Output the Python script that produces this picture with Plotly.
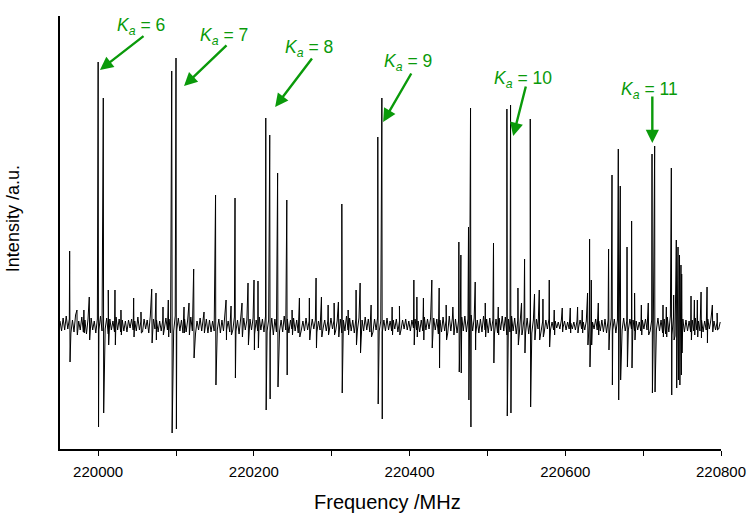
import plotly.graph_objects as go

# ---- strong / medium transitions: frequency (MHz), upward lobe, downward lobe (a.u.)
line_freq = [219963.4, 220000.0, 220006.6, 220094.5, 220100.0, 220122.7, 220150.8, 220175.8,
             220192.5, 220200.2, 220205.3, 220215.3, 220220.4, 220230.5, 220242.3, 220279.9,
             220313.0, 220331.3, 220336.5, 220359.2, 220364.4, 220405.5, 220428.6, 220438.0,
             220463.3, 220465.9, 220475.7, 220478.3, 220484.3, 220507.8, 220525.0, 220529.7,
             220539.2, 220547.7, 220555.0, 220566.6, 220579.4, 220596.1, 220628.6, 220631.2,
             220633.4, 220655.6, 220660.0, 220668.1, 220670.6, 220679.3, 220685.2, 220689.0,
             220711.4, 220714.8, 220736.2, 220739.2, 220742.6, 220744.8, 220746.7, 220748.6,
             220749.5, 220761.5, 220774.4, 220782.1, 220788.9, 220795.0]
line_up = [74, 263, 227, 254, 267, 56, 130, 127,
           42, 45, 44, 207, 190, 152, 125, 47,
           121, 35, 42, 188, 227, 45, 45, 37,
           83, 70, 98, 217, 43, 82, 216, 220,
           37, 66, 206, 35, 45, 17, 32, 86,
           45, 76, 150, 176, 139, 78, 104, 32,
           171, 179, 157, 30, 85, 78, 70, 60,
           51, 29, 33, 38, 20, 12]
line_down = [37, 102, 88, 108, 104, 33, 60, 53,
             20, 25, 23, 85, 74, 62, 50, 23,
             68, 20, 28, 79, 94, 20, 23, 43,
             47, 48, 75, 102, 25, 38, 91, 88,
             20, 28, 82, 15, 22, 7, 20, 42,
             20, 25, 60, 75, 55, 42, 43, 15,
             68, 67, 70, 15, 63, 55, 60, 50,
             28, 15, 13, 18, 7, 5]

# ---- weaker features
weak_freq = [219972.8, 219981.7, 219988.6, 220013.0, 220021.6, 220029.3, 220045.6, 220055.0,
             220068.8, 220074.3, 220083.3, 220090.1, 220110.3, 220116.7, 220136.0, 220164.3,
             220170.7, 220184.8, 220249.1, 220258.5, 220271.3, 220286.8, 220295.4, 220303.1,
             220308.6, 220321.1, 220350.6, 220377.6, 220387.0, 220409.4, 220417.8, 220447.0,
             220455.6, 220497.2, 220513.9, 220543.8, 220560.5, 220571.3, 220585.8, 220606.4,
             220615.8, 220621.8, 220642.4, 220697.7, 220706.6, 220725.5, 220729.8, 220765.8,
             220769.6]
weak_up = [15, 15, 28, 35, 35, 15, 27, 13,
           36, 32, 18, 25, 18, 22, 13, 25,
           19, 22, 15, 27, 27, 28, 20, 22,
           23, 15, 20, 18, 19, 28, 27, 20,
           18, 22, 18, 22, 31, 26, 15, 17,
           18, 15, 22, 20, 22, 20, 18, 25,
           25]
weak_down = [10, 8, 15, 20, 20, 10, 12, 8,
             18, 15, 10, 12, 8, 10, 8, 15,
             10, 12, 10, 12, 15, 12, 10, 10,
             12, 10, 12, 10, 10, 12, 15, 15,
             10, 12, 10, 10, 15, 12, 10, 8,
             8, 8, 10, 10, 10, 12, 12, 10,
             12]

# ---- baseline noise, read every 2 MHz starting at 219951 MHz
noise_start = 219951.0
noise_step = 2.0
noise_vals = [
    4, -6, 7, -5, 9, -4, 6, -8, 5, -7, 10, -6, 4, -5, 8, -7, 5, -9, 6, -4,
    7, -5, 4, -8, 6, -5, 9, -6, 5, -4, 7, -9, 6, -5, 4, -7, 8, -5, 6, -7,
    5, -6, 4, -7, 5, -3, 6, -5, 4, -6, 8, -5, 4, -7, 6, -4, 5, -8, 9, -5,
    6, -4, 5, -7, 4, -6, 5, -4, 7, -5, 6, -8, 4, -6, 9, -5, 7, -6, 5, -8,
    6, -7, 5, -4, 8, -6, 5, -9, 4, -5, 7, -6, 5, -4, 6, -8, 5, -7, 4, -6,
    7, -5, 6, -8, 5, -6, 9, -5, 4, -7, 6, -5, 8, -6, 5, -9, 6, -4, 7, -5,
    5, -8, 6, -5, 7, -9, 5, -6, 8, -5, 6, -7, 9, -6, 5, -8, 7, -10, 6, -7,
    8, -6, 5, -7, 9, -5, 6, -8, 5, -4, 7, -6, 5, -8, 6, -5, 4, -6, 7, -5,
    4, -5, 6, -4, 5, -7, 4, -5, 6, -3, 5, -6, 4, -5, 7, -4, 5, -6, 4, -7,
    6, -8, 5, -6, 9, -5, 7, -6, 5, -8, 6, -5, 7, -9, 5, -6, 8, -5, 6, -7,
    5, -7, 6, -5, 8, -6, 4, -7, 5, -6, 7, -5, 4, -6, 5, -4, 6, -7, 4, -5,
    5, -4, 6, -5, 4, -6, 5, -3, 6, -5, 4, -7, 5, -6, 8, -5, 6, -4, 7, -6,
    7, -5, 6, -9, 5, -7, 8, -6, 5, -8, 9, -6, 7, -10, 6, -8, 5, -7, 8, -6,
    9, -7, 6, -8, 10, -6, 7, -9, 5, -8, 6, -7, 9, -5, 6, -8, 7, -6, 5, -9,
    6, -8, 7, -5, 9, -6, 8, -10, 6, -7, 9, -6, 7, -9, 5, -8, 10, -7, 6, -8,
    7, -9, 6, -8, 5, -7, 6, -4, 5, -6, 4, -7, 5, -4, 6, -5, 3, -5, 4, -3,
    3, -4, 5, -3, 4, -5, 3, -4, 2, -4, 3, -5, 4, -3, 5, -4, 3, -5, 4, -3,
    4, -5, 3, -4, 6, -5, 4, -6, 5, -7, 6, -8, 5, -6, 7, -5, 6, -8, 5, -7,
    6, -5, 7, -6, 4, -5, 6, -4, 5, -6, 4, -5, 3, -6, 5, -4, 6, -5, 4, -6,
    5, -7, 6, -5, 7, -6, 5, -8, 6, -9, 8, -7, 9, -10, 8, -11, 9, -12, 7, -9,
    6, -7, 5, -6, 4, -7, 5, -6, 7, -5, 4, -6, 5, -7, 4, -5, 6, -4, 5, -6,
    4, -5, 3, -4, 3]

# ---- Ka labels: text position, arrow tail, arrow head (frequency MHz, intensity a.u.)
ka_values = [6, 7, 8, 9, 10, 11]
ka_text_f = [220055.0, 220161.7, 220270.9, 220398.1, 220545.9, 220707.9]
ka_text_i = [299, 289, 277, 263, 246, 235]
ka_tail_f = [220060.2, 220166.8, 220276.1, 220403.3, 220549.8, 220711.8]
ka_tail_i = [290, 281, 268, 253, 240, 230]
ka_head_f = [220002.3, 220110.3, 220227.3, 220366.0, 220533.1, 220711.8]
ka_head_i = [255, 239, 218, 203, 189, 182]

x_ticks = [220000, 220200, 220400, 220600, 220800]

# ---- assemble spectrum trace
pts = []
for i, v in enumerate(noise_vals):
    pts.append((noise_start + i * noise_step, v))
for f, u, d in zip(line_freq + weak_freq, line_up + weak_up, line_down + weak_down):
    pts.append((f, u))
    pts.append((f + 0.5, -d))
pts.sort(key=lambda p: p[0])
xs = [p[0] for p in pts]
ys = [p[1] for p in pts]

FONT = "Liberation Sans, Arial, Helvetica, sans-serif"
green = "#0A9A0A"
fig = go.Figure()
fig.add_trace(go.Scatter(x=xs, y=ys, mode="lines",
                         line=dict(color="black", width=1), showlegend=False,
                         hoverinfo="skip"))

for k, tf, ti, af, ai, hf, hi in zip(ka_values, ka_text_f, ka_text_i, ka_tail_f,
                                     ka_tail_i, ka_head_f, ka_head_i):
    fig.add_annotation(x=hf, y=hi, ax=af, ay=ai, xref="x", yref="y", axref="x", ayref="y",
                       text="", showarrow=True, arrowhead=2, arrowsize=1.1,
                       arrowwidth=2.4, arrowcolor=green, standoff=0, startstandoff=0)
    fig.add_annotation(x=tf, y=ti, xref="x", yref="y", showarrow=False,
                       text=f"<i>K</i><sub><i>a</i></sub> = {k}",
                       font=dict(family=FONT, size=17.5, color=green),
                       xanchor="center", yanchor="middle")

# axis titles
fig.add_annotation(x=0.496, y=-0.122, xref="paper", yref="paper", showarrow=False,
                   text="Frequency /MHz", font=dict(family=FONT, size=20, color="black"),
                   xanchor="center", yanchor="middle")
fig.add_annotation(x=-0.071, y=0.531, xref="paper", yref="paper", showarrow=False,
                   text="Intensity /a.u.", textangle=-90,
                   font=dict(family=FONT, size=18, color="black"),
                   xanchor="center", yanchor="middle")

fig.update_layout(
    width=747, height=523,
    margin=dict(l=60, r=26, t=16, b=74),
    plot_bgcolor="white", paper_bgcolor="white",
    font=dict(family=FONT, color="black"),
    xaxis=dict(range=[219951, 220800], showgrid=False, zeroline=False, automargin=False,
               showline=True, linecolor="black", linewidth=1.5,
               ticks="outside", ticklen=5, tickwidth=1, tickcolor="black",
               tickvals=x_ticks, ticktext=[str(t) for t in x_ticks],
               tickfont=dict(size=15), ticklabelstandoff=3,
               minor=dict(dtick=100, tick0=220000, ticks="outside", ticklen=5,
                          tickwidth=1, tickcolor="black", showgrid=False)),
    yaxis=dict(range=[-124, 309], showgrid=False, zeroline=False, automargin=False,
               showline=True, linecolor="black", linewidth=1.5,
               showticklabels=False, ticks=""),
)

fig.write_html("out.html", config={"displayModeBar": False},
               post_script="document.body.style.margin='0';document.body.style.overflow='hidden';")
